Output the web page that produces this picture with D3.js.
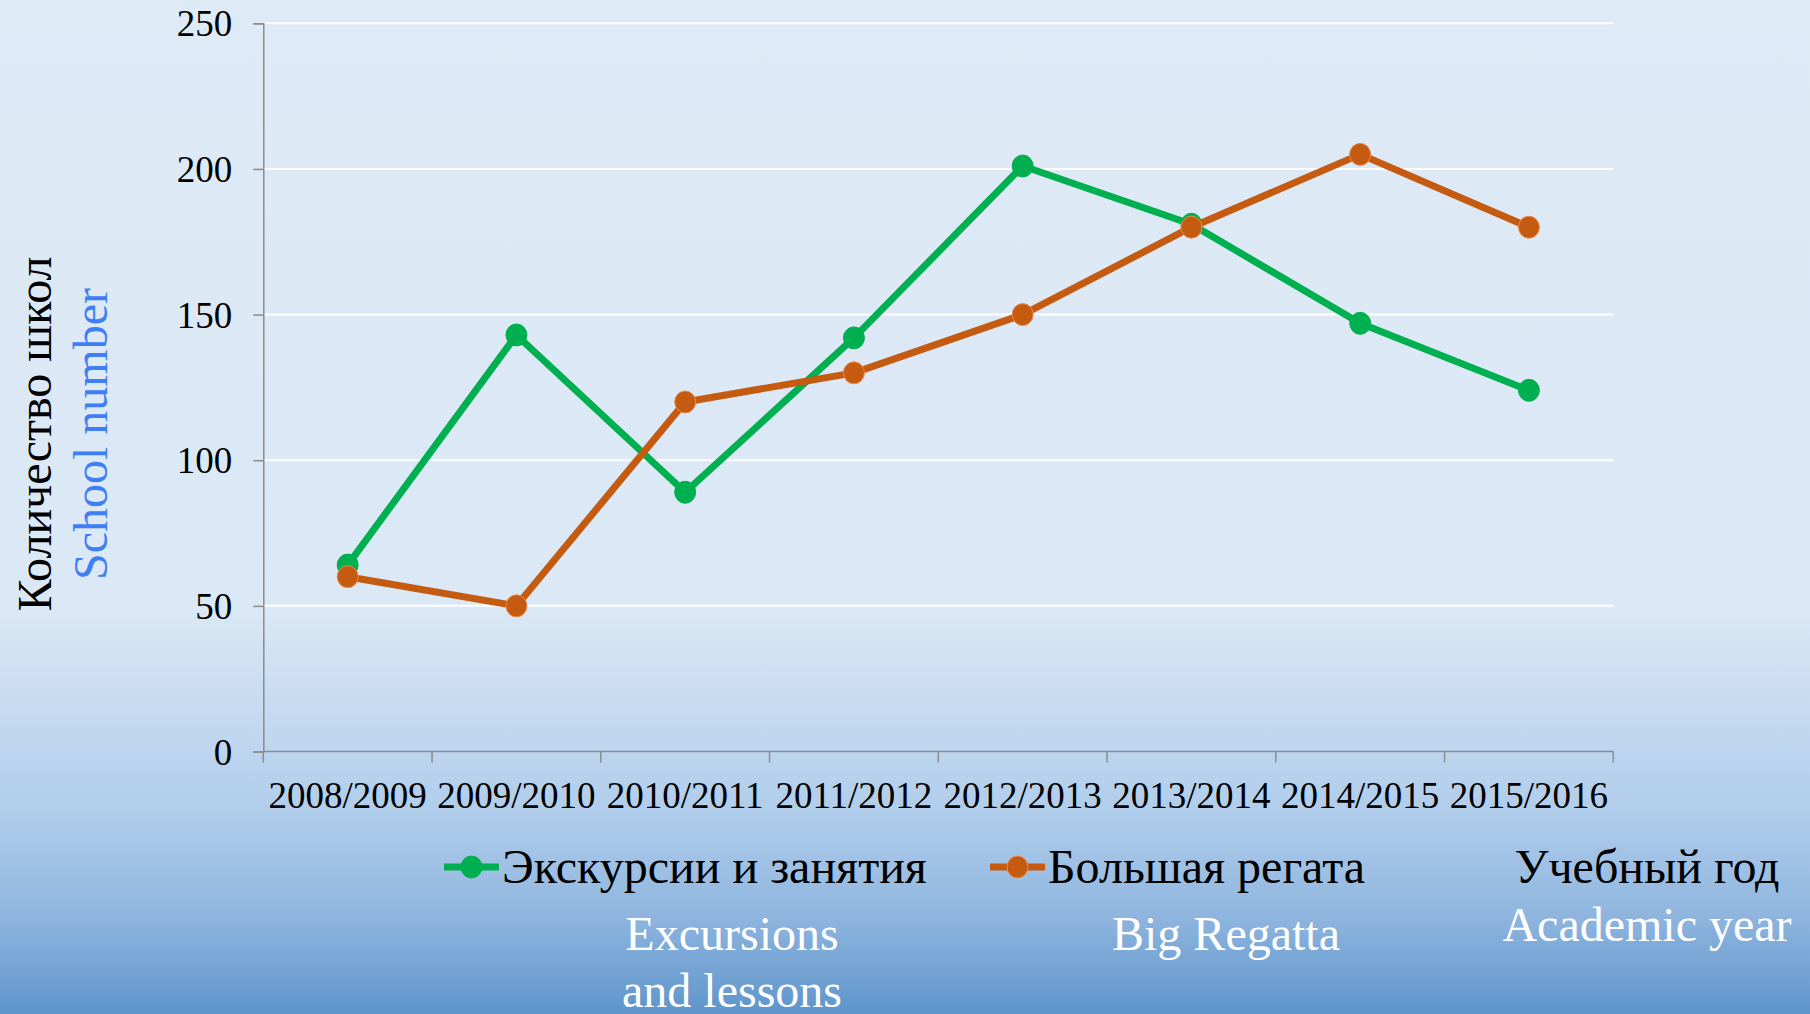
<!DOCTYPE html>
<html>
<head>
<meta charset="utf-8">
<script src="https://cdn.jsdelivr.net/npm/d3@7"></script>
<style>
  html, body { margin: 0; padding: 0; }
  svg { display: block; font-family: "Liberation Serif", "Times New Roman", serif; }
</style>
</head>
<body>
<svg width="1810" height="1014"></svg>
<script>
// chart data
var years = ["2008/2009", "2009/2010", "2010/2011", "2011/2012", "2012/2013", "2013/2014", "2014/2015", "2015/2016"];
var excursions = [64, 143, 89, 142, 201, 181, 147, 124];
var regatta = [60, 50, 120, 130, 150, 180, 205, 180];
var yTicks = [0, 50, 100, 150, 200, 250];

var svg = d3.select("svg"),
    width = +svg.attr("width"),
    height = +svg.attr("height");

// background gradient
var defs = svg.append("defs");
var grad = defs.append("linearGradient")
    .attr("id", "bg")
    .attr("x1", 0).attr("y1", 0).attr("x2", 0).attr("y2", 1);
[[0, "#deeaf6"], [0.6, "#dbe8f5"], [0.8, "#b0cdeb"], [0.9, "#90b6df"], [1, "#5f95cb"]].forEach(function(s) {
  grad.append("stop").attr("offset", s[0]).attr("stop-color", s[1]);
});
svg.append("rect").attr("width", width).attr("height", height).attr("fill", "url(#bg)");

var plotLeft = 263.3, plotRight = 1613.3, plotTop = 23.3, plotBottom = 751.5;

var x = d3.scaleBand().domain(years).range([plotLeft, plotRight]).padding(0);
var y = d3.scaleLinear().domain([0, 250]).range([plotBottom, plotTop]);
var cx = function(d, i) { return x(years[i]) + x.bandwidth() / 2; };

// grid
svg.append("g")
  .selectAll("line")
  .data(yTicks.filter(function(d) { return d > 0; }))
  .enter().append("line")
    .attr("x1", plotLeft).attr("x2", plotRight)
    .attr("y1", function(d) { return y(d); })
    .attr("y2", function(d) { return y(d); })
    .attr("stroke", "#ffffff")
    .attr("stroke-width", 2);

// y axis
var yAxis = svg.append("g")
    .attr("transform", "translate(" + plotLeft + ",0)")
    .call(d3.axisLeft(y).tickValues(yTicks).tickSize(10).tickPadding(21));
yAxis.select(".domain").attr("stroke", "#8c8c8c").attr("stroke-width", 1.5);
yAxis.selectAll(".tick line").attr("stroke", "#8c8c8c").attr("stroke-width", 1.5);
yAxis.selectAll("text")
    .attr("font-size", 37)
    .attr("font-family", "Liberation Serif")
    .attr("fill", "#000")
    .attr("dy", "0.34em");

// x axis: labels at band centers, ticks at band edges
var xAxis = svg.append("g").attr("transform", "translate(0," + plotBottom + ")");
xAxis.append("line")
    .attr("x1", plotLeft).attr("x2", plotRight)
    .attr("stroke", "#8c8c8c").attr("stroke-width", 1.5);
var edges = years.map(function(d) { return x(d); }).concat([plotRight]);
xAxis.selectAll(".edge")
  .data(edges)
  .enter().append("line")
    .attr("class", "edge")
    .attr("x1", function(d) { return d; }).attr("x2", function(d) { return d; })
    .attr("y1", 0).attr("y2", 11)
    .attr("stroke", "#8c8c8c").attr("stroke-width", 1.5);
xAxis.selectAll(".lbl")
  .data(years)
  .enter().append("text")
    .attr("class", "lbl")
    .attr("x", function(d) { return x(d) + x.bandwidth() / 2; })
    .attr("y", 56.5)
    .attr("text-anchor", "middle")
    .attr("font-size", 37)
    .text(function(d) { return d; });

// series
var series = [
  { name: "Экскурсии и занятия", values: excursions, color: "#00b050", edge: "#00b050" },
  { name: "Большая регата", values: regatta, color: "#c55a11", edge: "#f08a46" }
];

var line = d3.line()
    .x(function(d, i) { return cx(d, i); })
    .y(function(d) { return y(d); });

series.forEach(function(s) {
  var g = svg.append("g");
  g.append("path")
      .datum(s.values)
      .attr("d", line)
      .attr("fill", "none")
      .attr("stroke", s.color)
      .attr("stroke-width", 7)
      .attr("stroke-linejoin", "round");
  g.selectAll("ellipse")
    .data(s.values)
    .enter().append("ellipse")
      .attr("cx", function(d, i) { return cx(d, i); })
      .attr("cy", function(d) { return y(d); })
      .attr("rx", 10.5)
      .attr("ry", 11)
      .attr("fill", s.color)
      .attr("stroke", s.edge)
      .attr("stroke-width", 1);
});

// y title
svg.append("text")
    .attr("transform", "translate(51,434) rotate(-90)")
    .attr("text-anchor", "middle")
    .attr("font-size", 48)
    .attr("fill", "#000")
    .text("Количество школ");
svg.append("text")
    .attr("transform", "translate(107,434) rotate(-90)")
    .attr("text-anchor", "middle")
    .attr("font-size", 48)
    .attr("fill", "#3f7ef5")
    .text("School number");

// legend
var legend = [
  { s: series[0], x0: 444, x1: 499, tx: 502 },
  { s: series[1], x0: 990, x1: 1045, tx: 1048 }
];
legend.forEach(function(l) {
  svg.append("line")
      .attr("x1", l.x0).attr("x2", l.x1)
      .attr("y1", 867).attr("y2", 867)
      .attr("stroke", l.s.color).attr("stroke-width", 7);
  svg.append("ellipse")
      .attr("cx", (l.x0 + l.x1) / 2).attr("cy", 867)
      .attr("rx", 10.5).attr("ry", 11)
      .attr("fill", l.s.color).attr("stroke", l.s.edge);
  svg.append("text")
      .attr("x", l.tx).attr("y", 883)
      .attr("font-size", 48)
      .text(l.s.name);
});
svg.append("text")
    .attr("x", 1647).attr("y", 883)
    .attr("text-anchor", "middle")
    .attr("font-size", 48)
    .text("Учебный год");

// english captions
var captions = [
  ["Excursions", 732, 950],
  ["and lessons", 732, 1007],
  ["Big Regatta", 1226, 950],
  ["Academic year", 1647, 941]
];
svg.selectAll(".cap")
  .data(captions)
  .enter().append("text")
    .attr("class", "cap")
    .attr("x", function(d) { return d[1]; })
    .attr("y", function(d) { return d[2]; })
    .attr("text-anchor", "middle")
    .attr("font-size", 48)
    .attr("fill", "#ffffff")
    .text(function(d) { return d[0]; });
</script>
</body>
</html>
